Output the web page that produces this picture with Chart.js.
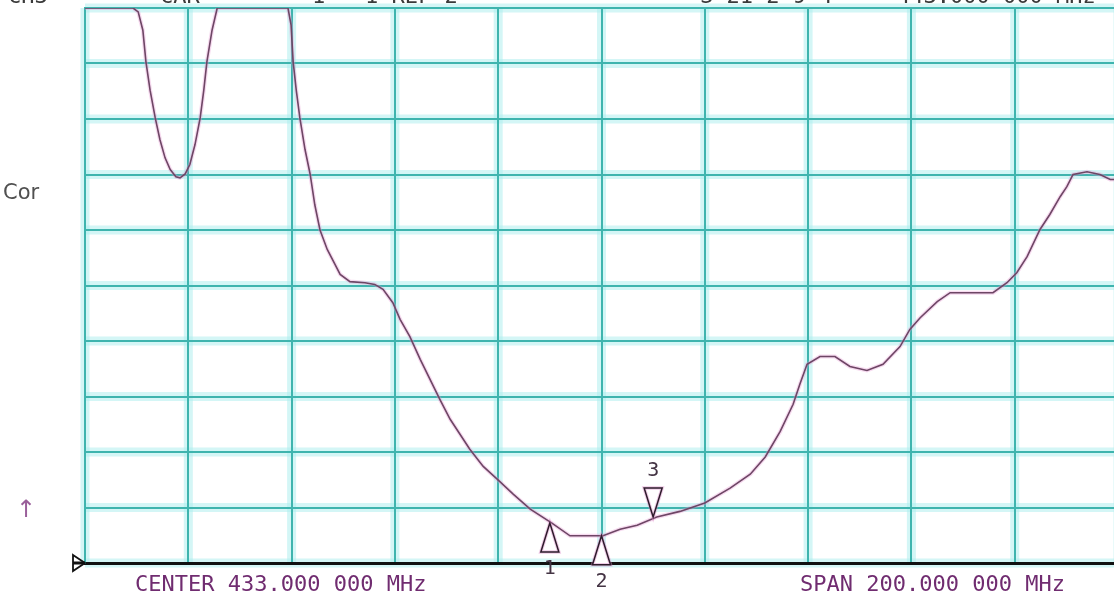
<!DOCTYPE html>
<html>
<head>
<meta charset="utf-8">
<script src="https://cdn.jsdelivr.net/npm/chart.js@4.4.1/dist/chart.umd.min.js"></script>
<style>
  html, body { margin: 0; padding: 0; background: #fff; overflow: hidden; }
  #wrap { width: 1114px; height: 597px; overflow: hidden; position: relative; }
</style>
</head>
<body>
<div id="wrap"><canvas id="analyzer" width="1118" height="597"></canvas></div>
<script>
// sweep: center 433 MHz, span 200 MHz, 10 divisions each way
const centerMHz = 433;
const spanMHz = 200;
const refDb = 0;
const dbPerDiv = 10;

// trace, frequency in MHz, level in dB (clipped at the top line)
const freqMHz = [333.0, 342.3, 343.3, 344.2, 344.8, 345.6, 346.6, 347.5, 348.5, 349.5,
  350.6, 351.4, 352.4, 353.3, 354.3, 355.3, 356.0, 356.6, 357.6, 358.6,
  372.3, 372.9, 373.3, 373.9, 374.6, 375.6, 376.6, 377.5, 378.5, 379.9,
  381.4, 382.4, 384.3, 387.2, 389.1, 390.7, 392.6, 394.0, 395.9, 397.9,
  399.8, 401.7, 403.7, 405.6, 407.5, 410.1, 412.8, 415.9, 419.2, 423.4,
  426.9, 430.8, 433.3, 436.6, 439.9, 443.7, 448.2, 453.0, 457.9, 461.8,
  464.7, 467.6, 470.1, 471.4, 472.8, 475.3, 478.2, 481.1, 484.4, 487.5,
  490.8, 492.7, 494.7, 498.0, 500.5, 504.3, 508.8, 511.5, 513.4, 515.4,
  517.9, 519.8, 521.8, 523.1, 524.3, 527.0, 529.5, 531.5, 533.0];
const traceDb = [0, 0, -0.7, -4.0, -9.7, -14.8, -19.8, -23.7, -27.0, -29.1,
  -30.4, -30.6, -29.9, -28.2, -24.6, -19.8, -14.8, -9.7, -4.0, 0,
  0, -3.1, -9.7, -14.8, -19.8, -25.5, -30.0, -35.5, -40.0, -43.5,
  -46.2, -48.0, -49.3, -49.5, -49.8, -50.7, -53.1, -56.1, -59.2, -63.3,
  -66.9, -70.5, -74.1, -76.8, -79.5, -82.6, -84.9, -87.6, -90.3, -92.8,
  -95.1, -95.1, -95.1, -93.9, -93.2, -91.7, -90.7, -89.2, -86.5, -84.0,
  -80.9, -76.3, -71.4, -67.8, -64.2, -62.8, -62.8, -64.6, -65.3, -64.2,
  -61.0, -57.9, -55.8, -52.9, -51.3, -51.3, -51.3, -49.5, -47.7, -44.8,
  -39.9, -37.2, -34.0, -32.2, -30.0, -29.5, -30.0, -30.9, -30.9];

// markers
const markerFreqMHz = [423, 433, 443];
const markerDb = [-92.8, -95.1, -91.7];
const markerLabels = ['1', '2', '3'];
const markerUp = [true, true, false];

// screen annotations
const headerTexts = ['CH3', 'CAR', '1 - 1 REF 2', 'S 21 2 9 4', '443.000 000 MHz'];
const centerLabel = 'CENTER 433.000 000 MHz';
const spanLabel = 'SPAN 200.000 000 MHz';
const sideLabel = 'Cor';

const GRID = '#3fb4ae';
const TRACE = '#2e1c2c';
const PURPLE = '#702c70';
const MONO = '"DejaVu Sans Mono", "Liberation Mono", monospace';

const overlay = {
    id: 'overlay',
    beforeDraw(chart) {
        const {ctx, chartArea: a, scales: {x, y}} = chart;
        ctx.save();
        ctx.fillStyle = '#fff';
        ctx.fillRect(0, 0, chart.width, chart.height);
        // soft cyan glow round the graticule
        ctx.strokeStyle = 'rgba(170, 238, 238, 0.5)';
        ctx.lineWidth = 9;
        x.ticks.forEach(t => {
            const px = x.getPixelForValue(t.value);
            ctx.beginPath(); ctx.moveTo(px, a.top); ctx.lineTo(px, a.bottom); ctx.stroke();
        });
        y.ticks.forEach(t => {
            const py = y.getPixelForValue(t.value);
            ctx.beginPath(); ctx.moveTo(a.left, py); ctx.lineTo(a.right, py); ctx.stroke();
        });
        ctx.restore();
    },
    afterDatasetsDraw(chart) {
        const {ctx, chartArea: a, scales: {x, y}} = chart;
        ctx.save();
        // reference line stub and level marker on the left
        ctx.strokeStyle = '#111';
        ctx.lineWidth = 3;
        ctx.beginPath(); ctx.moveTo(a.left - 12, a.bottom); ctx.lineTo(a.left, a.bottom); ctx.stroke();
        ctx.lineWidth = 1.8;
        ctx.beginPath();
        ctx.moveTo(a.left - 12, a.bottom - 8);
        ctx.lineTo(a.left, a.bottom);
        ctx.lineTo(a.left - 12, a.bottom + 8);
        ctx.closePath();
        ctx.stroke();

        // sweep markers
        ctx.font = '20px ' + MONO;
        ctx.textAlign = 'center';
        ctx.textBaseline = 'middle';
        markerFreqMHz.forEach((f, i) => {
            const px = x.getPixelForValue(f);
            const py = y.getPixelForValue(markerDb[i]);
            const dir = markerUp[i] ? 1 : -1;
            ctx.beginPath();
            ctx.moveTo(px, py);
            ctx.lineTo(px - 9, py + dir * 29);
            ctx.lineTo(px + 9, py + dir * 29);
            ctx.closePath();
            ctx.fillStyle = '#fff';
            ctx.fill();
            ctx.strokeStyle = 'rgba(220, 140, 200, 0.45)';
            ctx.lineWidth = 3.5;
            ctx.stroke();
            ctx.strokeStyle = TRACE;
            ctx.lineWidth = 1.5;
            ctx.stroke();
            ctx.fillStyle = '#443444';
            ctx.fillText(markerLabels[i], px, py + dir * 46);
        });
        ctx.restore();
    },
    afterDraw(chart) {
        const {ctx} = chart;
        ctx.save();
        ctx.textBaseline = 'alphabetic';
        ctx.textAlign = 'left';
        // header line, mostly cut off by the top of the screen
        ctx.font = '22px ' + MONO;
        ctx.fillStyle = '#3a3a3a';
        const headerX = [8, 160, 312, 700, 897];
        headerTexts.forEach((t, i) => ctx.fillText(t, headerX[i], 3));

        ctx.font = '21px "DejaVu Sans", sans-serif';
        ctx.fillStyle = '#505050';
        ctx.fillText(sideLabel, 3, 199);

        ctx.font = '24px "DejaVu Sans", sans-serif';
        ctx.fillStyle = '#9a5f9a';
        ctx.fillText('\u2191', 16, 517);

        ctx.font = '22px ' + MONO;
        ctx.fillStyle = PURPLE;
        ctx.fillText(centerLabel, 135, 591);
        ctx.fillText(spanLabel, 800, 591);
        ctx.restore();
    }
};

const points = freqMHz.map((f, i) => ({x: f, y: traceDb[i]}));

new Chart(document.getElementById('analyzer'), {
    type: 'line',
    data: {
        datasets: [{
            // pink halo
            data: points,
            borderColor: 'rgba(230, 150, 210, 0.35)',
            borderWidth: 4,
            pointRadius: 0,
            tension: 0
        }, {
            data: points,
            borderColor: TRACE,
            borderWidth: 1.6,
            pointRadius: 0,
            tension: 0
        }]
    },
    options: {
        responsive: false,
        animation: false,
        events: [],
        layout: {
            padding: {left: 85, top: 8, right: 0, bottom: 34}
        },
        plugins: {
            legend: {display: false},
            tooltip: {enabled: false},
            title: {display: false}
        },
        scales: {
            x: {
                type: 'linear',
                min: centerMHz - spanMHz / 2,
                max: centerMHz + spanMHz / 2,
                ticks: {display: false, stepSize: spanMHz / 10},
                grid: {color: GRID, lineWidth: 2, drawTicks: false},
                border: {display: true, color: '#111', width: 3}
            },
            y: {
                min: refDb - 10 * dbPerDiv,
                max: refDb,
                ticks: {display: false, stepSize: dbPerDiv},
                grid: {color: GRID, lineWidth: 2, drawTicks: false},
                border: {display: true, color: GRID, width: 2}
            }
        }
    },
    plugins: [overlay]
});
</script>
</body>
</html>
